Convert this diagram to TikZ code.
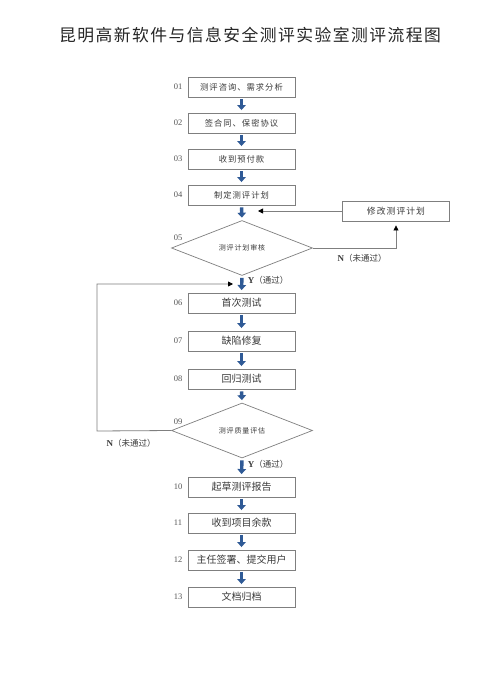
\documentclass[tikz,border=0pt]{standalone}
\usepackage{fontspec}
\usetikzlibrary{arrows.meta,shapes.geometric}
\newfontfamily\cjk{Noto Sans CJK SC}
\newfontfamily\cjkwide[LetterSpace=12]{Noto Sans CJK SC}
\newfontfamily\cjktitle[LetterSpace=8.6]{Noto Sans CJK SC}
\setmainfont{Liberation Serif}
\definecolor{flowblue}{HTML}{2F5A96}
\definecolor{boxgray}{HTML}{7F7F7F}
\definecolor{txtgray}{HTML}{3A3A3A}
\definecolor{numgray}{HTML}{555555}
\tikzset{
  stepbox/.style={draw=boxgray,line width=0.9pt,minimum width=107pt,minimum height=20pt,inner sep=0pt,text=txtgray,font=\cjk\fontsize{10}{12}\selectfont},
  smallbox/.style={stepbox,font=\cjkwide\fontsize{8.3}{10}\selectfont},
  decision/.style={draw=boxgray,line width=0.7pt,diamond,minimum width=141pt,minimum height=55pt,inner sep=0pt,text=txtgray,font=\cjkwide\fontsize{7}{9}\selectfont},
  numlbl/.style={text=numgray,font=\fontsize{8.5}{10}\selectfont,inner sep=0pt},
  flow/.style={draw=flowblue,line width=3.4pt,-{Triangle[length=5pt,width=8.5pt]},flowblue,shorten <=2pt,shorten >=2.5pt},
  back/.style={draw=boxgray,line width=0.8pt,-{Triangle[length=5pt,width=5pt,color=black]}},
  yn/.style={text=txtgray,inner sep=0pt,font=\fontsize{9}{11}\selectfont}
}
\begin{document}
\begin{tikzpicture}[x=1pt,y=-1pt]
\useasboundingbox[fill=white] (0,0) rectangle (500,688);
\node[font=\cjktitle\fontsize{16.8}{20}\selectfont,text=black!85] (title) at (250,35) {昆明高新软件与信息安全测评实验室测评流程图};

\node[smallbox] (b01) at (241.5,87) {测评咨询、需求分析};
\node[smallbox] (b02) at (241.5,123) {签合同、保密协议};
\node[smallbox] (b03) at (241.5,159) {收到预付款};
\node[smallbox] (b04) at (241.5,195) {制定测评计划};
\node[decision] (d05) at (242,248) {测评计划审核};
\node[stepbox,font=\cjkwide\fontsize{8.8}{10}\selectfont] (mod) at (396,211) {修改测评计划};
\node[stepbox] (b06) at (241.5,303) {首次测试};
\node[stepbox] (b07) at (241.5,341) {缺陷修复};
\node[stepbox] (b08) at (241.5,379) {回归测试};
\node[decision] (d09) at (242,430.5) {测评质量评估};
\node[stepbox] (b10) at (241.5,487) {起草测评报告};
\node[stepbox] (b11) at (241.5,523) {收到项目余款};
\node[stepbox] (b12) at (241.5,560) {主任签署、提交用户};
\node[stepbox] (b13) at (241.5,597) {文档归档};

\node[numlbl] (n01) at (178,87) {01};
\node[numlbl] (n02) at (178,123) {02};
\node[numlbl] (n03) at (178,159) {03};
\node[numlbl] (n04) at (178,195) {04};
\node[numlbl] (n05) at (178,238) {05};
\node[numlbl] (n06) at (178,303) {06};
\node[numlbl] (n07) at (178,341) {07};
\node[numlbl] (n08) at (178,379) {08};
\node[numlbl] (n09) at (178,422) {09};
\node[numlbl] (n10) at (178,487) {10};
\node[numlbl] (n11) at (178,523) {11};
\node[numlbl] (n12) at (178,560) {12};
\node[numlbl] (n13) at (178,597) {13};

\draw[flow] (b01) -- (b02);
\draw[flow] (b02) -- (b03);
\draw[flow] (b03) -- (b04);
\draw[flow] (b04.south) -- (d05.north);
\draw[flow] (d05.south) -- (b06.north);
\draw[flow] (b06) -- (b07);
\draw[flow] (b07) -- (b08);
\draw[flow] (b08.south) -- (d09.north);
\draw[flow] (d09.south) -- (b10.north);
\draw[flow] (b10) -- (b11);
\draw[flow] (b11) -- (b12);
\draw[flow] (b12) -- (b13);

\coordinate (modin) at (258,211);
\coordinate (loopin) at (233,284);
\coordinate (leftx) at (97,431);
\draw[back] (mod.west) -- (modin);
\draw[back,shorten >=4pt] (d05.east) -| (mod.south);
\draw[back] (d09.west) -- (leftx) |- (loopin);

\node[yn] (y05) at (268,280) {\textbf{Y}\cjk\fontsize{8.5}{10}\selectfont（通过）};
\node[yn] (n05l) at (362,258) {\textbf{N}\cjk\fontsize{8.5}{10}\selectfont（未通过）};
\node[yn] (y09) at (268,464) {\textbf{Y}\cjk\fontsize{8.5}{10}\selectfont（通过）};
\node[yn] (n09l) at (131,443) {\textbf{N}\cjk\fontsize{8.5}{10}\selectfont（未通过）};
\end{tikzpicture}
\end{document}
